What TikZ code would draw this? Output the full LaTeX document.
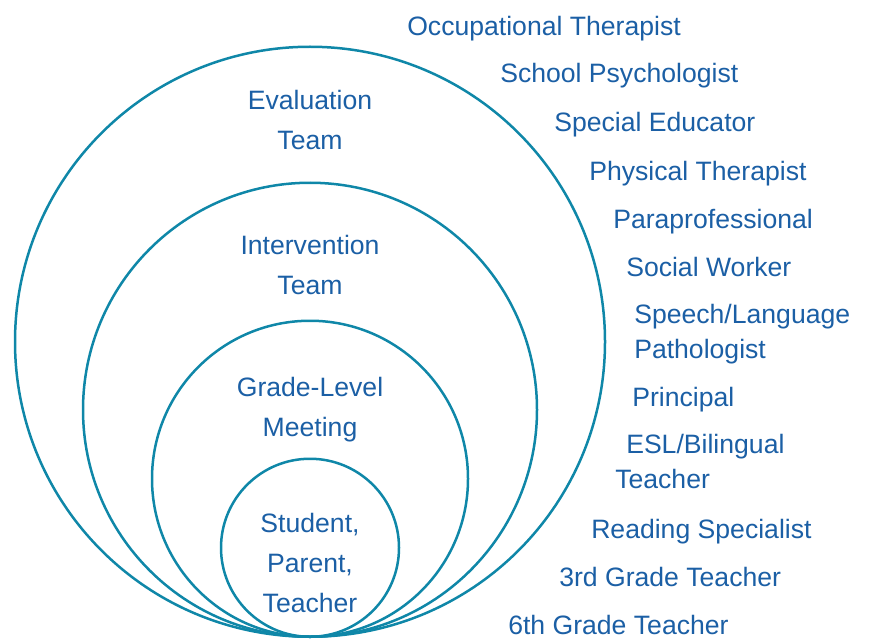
\documentclass[tikz,border=0pt]{standalone}
\usepackage{fontspec}
\setmainfont{Liberation Sans}
\definecolor{ringblue}{HTML}{0F87A8}
\definecolor{labelblue}{HTML}{1B5FA5}

\begin{document}
\begin{tikzpicture}[x=1pt,y=-1pt,line width=2.5pt,
  ring/.style={circle,draw=ringblue,inner sep=0pt,anchor=south},
  team/.style={text=labelblue,align=center,anchor=base,inner sep=0pt,
    font=\fontsize{26.6}{40}\selectfont},
  member/.style={text=labelblue,align=left,anchor=base west,inner sep=0pt,
    font=\fontsize{26.6}{35}\selectfont}]
  \useasboundingbox (0,0) rectangle (869,639);
  \coordinate (base) at (310,638);

  % nested circles, all touching at the bottom
  \node[ring,minimum size=590pt] (evalring) at (base) {};
  \node[ring,minimum size=454pt] (intring) at (base) {};
  \node[ring,minimum size=316pt] (gradering) at (base) {};
  \node[ring,minimum size=178pt] (studring) at (base) {};

  % base of a multi-line text is its last line
  \node[team] (eval) at (310,150) {Evaluation\\Team};
  \node[team] (int) at (310,294) {Intervention\\Team};
  \node[team] (grade) at (310,436) {Grade-Level\\Meeting};
  \node[team] (stud) at (310,612) {Student,\\Parent,\\Teacher};

  % people around the right side
  \node[member] (ot) at (406,36) {Occupational Therapist};
  \node[member] (psych) at (499,83) {School Psychologist};
  \node[member] (sped) at (553,132) {Special Educator};
  \node[member] (pt) at (588,180) {Physical Therapist};
  \node[member] (para) at (612,228) {Paraprofessional};
  \node[member] (sw) at (625,276) {Social Worker};
  \node[member] (slp) at (633,358) {Speech/Language\\Pathologist};
  \node[member] (prin) at (631,406) {Principal};
  \node[member] (esl) at (625,453) {ESL/Bilingual};
  \node[member] (eslb) at (614,488) {Teacher};
  \node[member] (read) at (590,538) {Reading Specialist};
  \node[member] (third) at (558,586) {3rd Grade Teacher};
  \node[member] (sixth) at (507,634) {6th Grade Teacher};
\end{tikzpicture}
\end{document}
